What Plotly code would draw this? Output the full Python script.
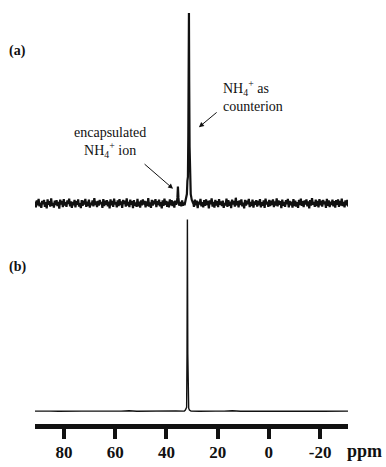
import numpy as np
import plotly.graph_objects as go

# ---------------- data ----------------
# x axis ticks (ppm)
tick_vals = [80, 60, 40, 20, 0, -20]
tick_text = ["80", "60", "40", "20", "0", "-20"]

# Panel (a): baseline noise, values in units of 0.0014 x main peak height
noise_a_left = [8, -14, 12, -6, 18, -10, 4, -16, 10, -2,
                14, -12, 6, -18, 16, -4, 9, -11, 20, -8,
                3, -15, 11, -5, 13, -9, 7, -19, 15, -3,
                10, -13, 17, -7, 5, -12, 12, -1, 19, -10,
                8, -16, 6, -6, 14, -14, 9, -4, 16, -11,
                2, -17, 13, -8, 11, -3, 18, -12, 7, -9,
                15, -15, 4, -6, 12, -10, 21, -5, 8, -13,
                10, -7, 14, -2, 6, -16, 17, -9, 11, -4,
                13, -10, 7, -18, 16, -6, 10, -12, 19, -3,
                5, -14, 12, -9, 17, -5, 8, -16, 14, -1,
                11, -11, 20, -7, 6, -13, 15, -4, 9, -17,
                13, -8, 4, -12, 18, -10, 7, -15, 12, -6,
                16, -3, 10, -14, 8, -9, 21, -11, 5, -16,
                14, -7, 11, -2, 17, -13, 9, -5, 15, -10,
                6, -18, 12, -8, 19, -4, 10, -12, 7, -14,
                16, -6, 13, -9, 8, -15, 11, -3]
noise_a_mid = [6, -10, 12, -8, 4, -6, 9]
noise_a_right = [9, -12, 15, -6, 11, -17, 7, -3, 18, -10,
                 5, -14, 13, -8, 16, -5, 10, -18, 12, -2,
                 20, -11, 6, -15, 14, -7, 9, -13, 17, -4,
                 8, -9, 11, -16, 3, -6, 19, -12, 13, -8,
                 7, -17, 15, -3, 10, -11, 22, -6, 9, -14,
                 12, -5, 16, -10, 4, -18, 14, -7, 11, -2,
                 18, -13, 6, -9, 15, -15, 8, -4, 13, -11,
                 10, -6, 17, -14, 5, -8, 12, -16, 19, -3,
                 7, -12, 14, -9, 11, -5, 16, -13, 8, -7,
                 20, -10, 12, -4, 9, -17, 15, -8, 6, -12,
                 13, -2, 18, -14, 10, -6, 7, -15, 17, -9,
                 11, -11, 5, -16, 14, -5, 19, -8, 9, -13,
                 12, -3, 16, -10, 8, -18, 13, -7, 21, -4,
                 6, -12, 15, -9, 10, -14, 17, -6, 11, -11,
                 14, -2, 8, -16, 18, -8, 12, -13, 7, -5,
                 15, -10, 9, -15, 13, -4, 16, -12, 10, -7,
                 19, -9, 6, -14, 12, -6, 14, -11]
# small peak (encapsulated NH4+ ion)
small_peak_ppm = [36.0, 35.7, 35.5, 35.3, 35.0, 34.7]
small_peak_int = [0.0, 0.03, 0.09, 0.03, -0.01, 0.0]
# main peak (NH4+ as counterion)
main_peak_ppm = [32.4, 32.0, 31.8, 31.6, 31.45, 31.3, 31.2, 31.1, 30.95, 30.8, 30.5, 30.1, 29.8]
main_peak_int = [0.01, 0.05, 0.12, 0.14, 0.35, 0.75, 1.0, 0.65, 0.3, 0.12, 0.05, 0.02, 0.01]

# Panel (b): nearly flat baseline, values in units of 0.001
base_b_left = [0, 1, 0, -1, 0, 2, 0, 0, -1, 1, 0, 0, 2, -1, 0, 1, 0, 0, 1, 0]
base_b_right = [0, -1, 1, 0, 0, 2, -1, 0, 0, 1, 0, -1, 0, 0, 2, 0, -1, 0, 1, 0]
peak_b_ppm = [33.0, 32.6, 32.3, 32.1, 31.95, 31.8, 31.65, 31.5, 31.3, 31.0, 30.6]
peak_b_int = [0.0, 0.005, 0.015, 0.02, 0.3, 1.0, 0.3, 0.02, 0.015, 0.005, 0.0]

# ---------------- assemble ----------------
NA = 0.0014
ppm_a = (list(np.linspace(91.3, 36.2, len(noise_a_left))) + small_peak_ppm +
         list(np.linspace(34.5, 32.6, len(noise_a_mid))) + main_peak_ppm +
         list(np.linspace(29.6, -31.0, len(noise_a_right))))
int_a = ([v * NA for v in noise_a_left] + small_peak_int +
         [v * NA for v in noise_a_mid] + main_peak_int +
         [v * NA for v in noise_a_right])

NB = 0.001
ppm_b = (list(np.linspace(91.3, 33.2, len(base_b_left))) + peak_b_ppm +
         list(np.linspace(30.4, -30.9, len(base_b_right))))
int_b = [v * NB for v in base_b_left] + peak_b_int + [v * NB for v in base_b_right]

fig = go.Figure()
fig.add_trace(go.Scatter(x=ppm_a, y=int_a, mode="lines", yaxis="y",
                         line=dict(color="#111111", width=2.2), hoverinfo="skip"))
fig.add_trace(go.Scatter(x=ppm_b, y=int_b, mode="lines", yaxis="y2",
                         line=dict(color="#111111", width=1.4), hoverinfo="skip"))

serif = "Liberation Serif"
fig.update_layout(
    width=386, height=467,
    margin=dict(l=35, r=38, t=5, b=40),
    paper_bgcolor="white", plot_bgcolor="white",
    showlegend=False,
    xaxis=dict(range=[91.3, -30.9], tickvals=tick_vals, ticktext=tick_text,
               ticks="outside", ticklen=10, tickwidth=4, tickcolor="#111111",
               showline=True, linewidth=5, linecolor="#111111",
               showgrid=False, zeroline=False, ticklabelstandoff=-1,
               tickfont=dict(family=serif, size=17, color="#111111", weight="bold")),
    yaxis=dict(range=[-1.156, 1.042], visible=False, fixedrange=True),
    yaxis2=dict(range=[-0.0674, 2.119], visible=False, overlaying="y", fixedrange=True),
)

ann_font = dict(family=serif, size=14, color="#111111")
fig.add_annotation(x=-0.055, y=0.891, xref="paper", yref="paper", text="<b>(a)</b>",
                   xanchor="center", yanchor="middle", showarrow=False,
                   font=dict(family=serif, size=14, color="#111111"))
fig.add_annotation(x=-0.055, y=0.375, xref="paper", yref="paper", text="<b>(b)</b>",
                   xanchor="center", yanchor="middle", showarrow=False,
                   font=dict(family=serif, size=14, color="#111111"))
fig.add_annotation(x=1.053, y=-0.064, xref="paper", yref="paper", text="<b>ppm</b>",
                   xanchor="center", yanchor="middle", showarrow=False,
                   font=dict(family=serif, size=18, color="#111111"))

# text labels
fig.add_annotation(x=18.5, y=0.563, xref="x", yref="y", xanchor="left", yanchor="middle",
                   align="left",
                   text="NH<sub>4</sub><sup>+</sup> as<br>counterion", showarrow=False,
                   font=ann_font)
fig.add_annotation(x=62.0, y=0.323, xref="x", yref="y", xanchor="center", yanchor="middle",
                   align="center",
                   text="encapsulated<br>NH<sub>4</sub><sup>+</sup> ion", showarrow=False,
                   font=ann_font)
# arrows
fig.add_annotation(x=27.3, y=0.401, ax=19.8, ay=0.485, xref="x", yref="y",
                   axref="x", ayref="y", text="", showarrow=True,
                   arrowhead=2, arrowsize=1, arrowwidth=1, arrowcolor="#111111")
fig.add_annotation(x=37.4, y=0.078, ax=49.1, ay=0.214, xref="x", yref="y",
                   axref="x", ayref="y", text="", showarrow=True,
                   arrowhead=2, arrowsize=1, arrowwidth=1, arrowcolor="#111111")

fig.write_html("out.html", config={"displayModeBar": False, "staticPlot": True},
               post_script="document.body.style.margin='0';document.body.style.overflow='hidden';")
